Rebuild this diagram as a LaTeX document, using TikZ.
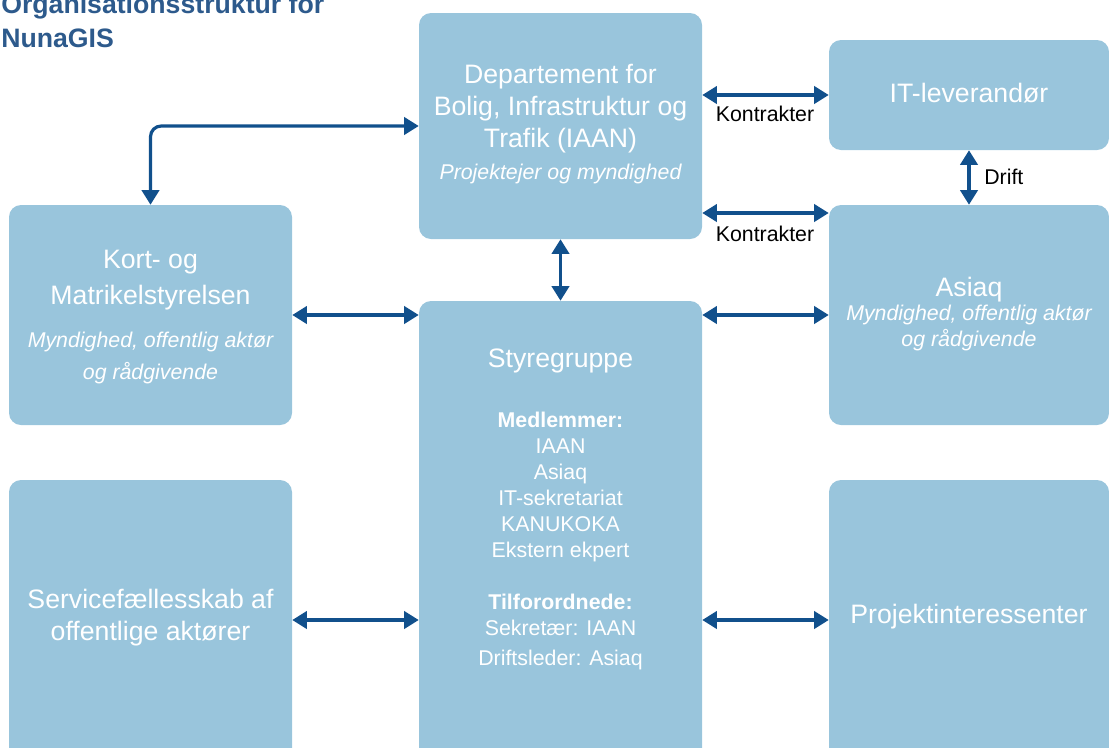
\documentclass[tikz,border=0pt]{standalone}
\usepackage{fontspec}
\setmainfont{Liberation Sans}
\usetikzlibrary{arrows.meta}

\definecolor{boxblue}{HTML}{99C5DC}
\definecolor{linkblue}{HTML}{11508C}
\definecolor{titleblue}{HTML}{2D5A8C}

\begin{document}
\begin{tikzpicture}[x=0.75pt, y=-0.75pt,
  box/.style={fill=boxblue, rounded corners=9pt, inner sep=0pt},
  link/.style={linkblue, line width=2.4pt,
    {Triangle[width=13pt,length=11pt]}-{Triangle[width=13pt,length=11pt]}},
  maintext/.style={white, align=center, inner sep=0pt, font=\fontsize{20}{24}\selectfont},
  roletext/.style={white, align=center, inner sep=0pt, font=\fontsize{16}{19.5}\selectfont\itshape},
  listtext/.style={white, align=center, inner sep=0pt, font=\fontsize{16}{19.5}\selectfont},
  linklabel/.style={black, inner sep=0pt, font=\fontsize{16}{18}\selectfont}]
  % billedet er 1109 x 747 px, 1 px = 0.75pt, y nedad
  \useasboundingbox (0,0) rectangle (1109,747);
  \clip (0,0) rectangle (1109,747);

  % titel (oeverste linje skaares af i toppen som i forlaegget)
  \node[titleblue, anchor=base west, inner sep=0pt, align=left,
    font=\fontsize{20}{25.5}\selectfont\bfseries] (title) at (1,47)
    {Organisationsstruktur for\\NunaGIS};

  % kasser: midtpunkt, bredde 283 px / 280 px
  \node[box, minimum width=212.25pt, minimum height=169.5pt] (iaan) at (560.5,126) {};
  \node[box, minimum width=210pt, minimum height=82.5pt] (itlev) at (969,95) {};
  \node[box, minimum width=210pt, minimum height=165pt] (asiaq) at (969,315) {};
  \node[box, minimum width=212.25pt, minimum height=165pt] (kort) at (150.5,315) {};
  \node[box, minimum width=212.25pt, minimum height=344.25pt] (styre) at (560.5,530.5) {};
  \node[box, minimum width=212.25pt, minimum height=210pt] (service) at (150.5,620) {};
  \node[box, minimum width=210pt, minimum height=210pt] (projekt) at (969,620) {};

  % tekster
  \node[maintext] (iaantxt) at (560.5,109) {Departement for\\Bolig, Infrastruktur og\\Trafik (IAAN)};
  \node[roletext] (iaanrole) at (560.5,174) {Projektejer og myndighed};
  \node[maintext] (itlevtxt) at (969,93) {IT-leverandør};
  \node[maintext] (asiaqtxt) at (969,290) {Asiaq};
  \node[roletext] (asiaqrole) at (969,328) {Myndighed, offentlig aktør\\og rådgivende};
  \node[maintext] (korttxt) at (150.5,280) {Kort- og\\[3pt]Matrikelstyrelsen};
  \node[roletext] (kortrole) at (150.5,358) {Myndighed, offentlig aktør\\[4pt]og rådgivende};
  \node[maintext] (styretxt) at (560.5,361) {Styregruppe};
  \node[listtext] (members) at (560.5,541)
    {\textbf{Medlemmer:}\\IAAN\\Asiaq\\IT-sekretariat\\KANUKOKA\\Ekstern ekpert\\[19.5pt]
     \textbf{Tilforordnede:}\\Sekretær: IAAN\\[3pt]Driftsleder: Asiaq};
  \node[maintext] (servicetxt) at (150.5,617.5) {Servicefællesskab af\\offentlige aktører};
  \node[maintext] (projekttxt) at (969,617) {Projektinteressenter};

  % forbindelser
  \coordinate (k2) at (0,213);
  \draw[link, rounded corners=8pt] (iaan.west) -- (kort.north |- iaan.west) -- (kort.north);
  \draw[link] (iaan.east |- itlev.west) -- (itlev.west);
  \draw[link] (iaan.east |- k2) -- (asiaq.west |- k2);
  \draw[link] (itlev.south) -- (asiaq.north);
  \draw[link] (iaan.south) -- (styre.north);
  \draw[link] (kort.east) -- (styre.west |- kort.east);
  \draw[link] (styre.east |- asiaq.west) -- (asiaq.west);
  \draw[link] (service.east) -- (styre.west |- service.east);
  \draw[link] (styre.east |- projekt.west) -- (projekt.west);

  % etiketter
  \node[linklabel] (k1lbl) at (765,114) {Kontrakter};
  \node[linklabel] (k2lbl) at (765,234) {Kontrakter};
  \node[linklabel, anchor=west] (driftlbl) at (984,177) {Drift};
\end{tikzpicture}
\end{document}
